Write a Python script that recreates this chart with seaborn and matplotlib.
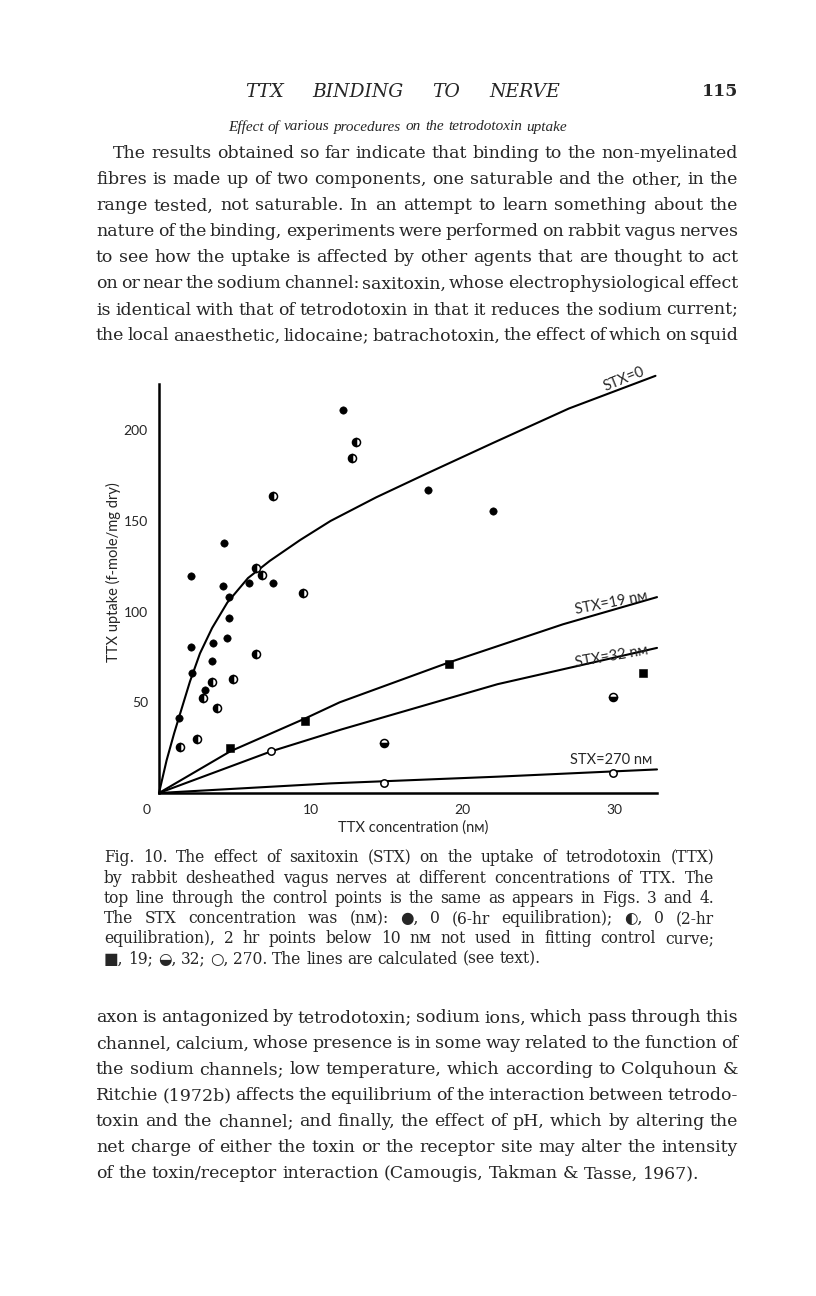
import numpy as np
import pandas as pd
import seaborn as sns
import matplotlib.pyplot as plt

sns.set_style("white")
plt.rcParams['font.family'] = ['DejaVu Serif', 'DejaVu Sans']

W, H = 816, 1296

# ---- data (TTX in nM, uptake in f-mole/mg dry) ----
# STX = 0, 6-hr equilibration (filled circles)
x_6hr = [2.1, 4.3, 4.2, 5.9, 7.5, 4.6, 4.6, 2.1, 3.55, 4.47, 3.5, 2.2, 3.0, 1.3, 12.1, 17.7, 22.0]
y_6hr = [119.6, 138, 114, 116, 116, 108, 96.5, 80.5, 82.7, 85.5, 72.8, 66, 56.8, 41.3, 211, 167, 155.5]
# STX = 0, 2-hr equilibration (half filled circles)
x_2hr = [6.8, 6.4, 7.5, 9.5, 6.4, 3.5, 4.9, 2.9, 3.8, 2.5, 1.4, 13.0, 12.7]
y_2hr = [120, 124, 164, 110, 76.6, 61, 62.8, 52.4, 47, 29.8, 25.4, 193.5, 184.7]
# STX = 19 nM (squares)
x_19 = [4.7, 9.6, 19.1, 31.9]
y_19 = [24.8, 39.7, 71, 66]
# STX = 32 nM (lower half filled)
x_32 = [14.8, 29.9]
y_32 = [27.5, 53]
# STX = 270 nM (open circles)
x_270 = [7.4, 14.8, 29.9]
y_270 = [23.2, 5.5, 11]

# calculated lines
line0_x = [0, 0.5, 1.0, 1.4, 2.04, 2.7, 3.5, 4.5, 5.86, 7.3, 9.3, 11.3, 14.3, 17.6, 22.0, 27.0, 32.7]
line0_y = [0, 18, 33, 44, 61.5, 77, 91, 105, 118.5, 128, 139.5, 150, 163, 176, 193, 212, 230]
line19_x = [0, 4.7, 9.6, 11.9, 19.1, 26.6, 32.8]
line19_y = [0, 23, 41, 50, 72, 93, 108]
line32_x = [0, 7.4, 12.0, 22.3, 32.8]
line32_y = [0, 23, 35, 60, 80]
line270_x = [0, 11.3, 22.3, 32.8]
line270_y = [0, 5.3, 9, 13]

x_ticks = [0, 10, 20, 30]
x_tick_labels = ['', '10', '20', '30']
y_ticks = [50, 100, 150, 200]

header = "TTX BINDING TO NERVE"
page_no = "115"
section = "Effect of various procedures on the tetrodotoxin uptake"
para1 = [
    "The results obtained so far indicate that binding to the non-myelinated",
    "fibres is made up of two components, one saturable and the other, in the",
    "range tested, not saturable. In an attempt to learn something about the",
    "nature of the binding, experiments were performed on rabbit vagus nerves",
    "to see how the uptake is affected by other agents that are thought to act",
    "on or near the sodium channel: saxitoxin, whose electrophysiological effect",
    "is identical with that of tetrodotoxin in that it reduces the sodium current;",
    "the local anaesthetic, lidocaine; batrachotoxin, the effect of which on squid",
]
caption = [
    "Fig. 10. The effect of saxitoxin (STX) on the uptake of tetrodotoxin (TTX)",
    "by rabbit desheathed vagus nerves at different concentrations of TTX. The",
    "top line through the control points is the same as appears in Figs. 3 and 4.",
    "The STX concentration was (nᴍ): ●, 0 (6-hr equilibration); ◐, 0 (2-hr",
    "equilibration), 2 hr points below 10 nᴍ not used in fitting control curve;",
    "■, 19; ◒, 32; ○, 270. The lines are calculated (see text).",
]
para2 = [
    "axon is antagonized by tetrodotoxin; sodium ions, which pass through this",
    "channel, calcium, whose presence is in some way related to the function of",
    "the sodium channels; low temperature, which according to Colquhoun &",
    "Ritchie (1972b) affects the equilibrium of the interaction between tetrodo-",
    "toxin and the channel; and finally, the effect of pH, which by altering the",
    "net charge of either the toxin or the receptor site may alter the intensity",
    "of the toxin/receptor interaction (Camougis, Takman & Tasse, 1967).",
]

fig = plt.figure(figsize=(W / 100, H / 100), dpi=100)
rend = fig.canvas.get_renderer()


def justify(lines, x0, x1, y0, step, size, indent=0, ragged_last=True, **kw):
    # place words one by one so that each line fills x0..x1 (pixels)
    for i, line in enumerate(lines):
        yf = 1 - (y0 + i * step) / H
        words = line.split(' ')
        left = x0 + (indent if i == 0 else 0)
        txts = [fig.text(0, yf, w, fontsize=size, va='center', ha='left', **kw) for w in words]
        wid = [t.get_window_extent(rend).width for t in txts]
        if (ragged_last and i == len(lines) - 1) or len(words) == 1:
            gap = 0.3 * size * 100 / 72
        else:
            gap = (x1 - left - sum(wid)) / (len(words) - 1)
        x = left
        for t, w in zip(txts, wid):
            t.set_x(x / W)
            x += w + gap


justify([header], 245, 560, 92, 0, 13.5, ragged_last=False, style='italic')
fig.text(738 / W, 1 - 92 / H, page_no, fontsize=12.5, fontweight='bold', ha='right', va='center')
justify([section], 228, 567, 127, 0, 11, ragged_last=False, style='italic',
        family=['Liberation Serif', 'DejaVu Serif'])
justify(para1, 96, 738, 154, 26, 12.5, indent=17, ragged_last=False)
justify(caption, 104, 714, 858, 20.2, 11.2)
justify(para2, 96, 738, 1018, 26, 12.5)

# ---- the chart ----
sans = ['Lato', 'DejaVu Sans']
ax = fig.add_axes([159 / W, 1 - 793 / H, 498 / W, 409 / H])

for lx, ly in [(line0_x, line0_y), (line19_x, line19_y), (line32_x, line32_y), (line270_x, line270_y)]:
    sns.lineplot(x=lx, y=ly, ax=ax, color='black', lw=1.5, sort=False)
for ln in ax.lines:
    ln.set_clip_on(False)

sns.scatterplot(x=x_6hr, y=y_6hr, ax=ax, color='black', marker='o', s=28, edgecolor='black', zorder=5)
sns.scatterplot(x=x_19, y=y_19, ax=ax, color='black', marker='s', s=26, edgecolor='black', zorder=5)
sns.scatterplot(x=x_270, y=y_270, ax=ax, color='white', marker='o', s=28, edgecolor='black',
                linewidth=1.1, zorder=5)
ax.plot(x_2hr, y_2hr, ls='none', marker='o', ms=5.8, fillstyle='left', mfc='black',
        mfcalt='white', mec='black', mew=1.1, zorder=5)
ax.plot(x_32, y_32, ls='none', marker='o', ms=5.8, fillstyle='bottom', mfc='black',
        mfcalt='white', mec='black', mew=1.1, zorder=5)

ax.set_xlim(0, 32.8)
ax.set_ylim(0, 225.5)
sns.despine(ax=ax)
for s in ['left', 'bottom']:
    ax.spines[s].set_linewidth(1.8)
    ax.spines[s].set_color('black')
ax.set_xticks(x_ticks)
ax.set_xticklabels(x_tick_labels)
ax.set_yticks(y_ticks)
ax.tick_params(direction='in', length=10, width=1.5, color='black', labelsize=10, pad=8)
for lab in ax.get_xticklabels() + ax.get_yticklabels():
    lab.set_family(sans)
# the "0" sits left of the corner in the original
ax.annotate('0', xy=(0, 0), xycoords='data', xytext=(-12, -17), textcoords='offset pixels',
            ha='center', va='center', fontsize=10, family=sans, annotation_clip=False)

ax.set_xlabel("TTX concentration (nᴍ)", fontsize=10.5, family=sans)
ax.set_ylabel("TTX uptake (f-mole/mg dry)", fontsize=10.5, family=sans)
ax.xaxis.set_label_coords(0.51, -0.066)
ax.yaxis.set_label_coords(-0.076, 0.54)

ax.text(30.6, 228, "STX=0", rotation=22, ha='center', va='center', fontsize=10.5, family=sans, clip_on=False)
ax.text(29.8, 104.5, "STX=19 nᴍ", rotation=11, ha='center', va='center', fontsize=10.5, family=sans)
ax.text(29.8, 75, "STX=32 nᴍ", rotation=10, ha='center', va='center', fontsize=10.5, family=sans)
ax.text(29.8, 18, "STX=270 nᴍ", rotation=0, ha='center', va='center', fontsize=10.5, family=sans)

fig.savefig("out.png", dpi=100, facecolor='white')
